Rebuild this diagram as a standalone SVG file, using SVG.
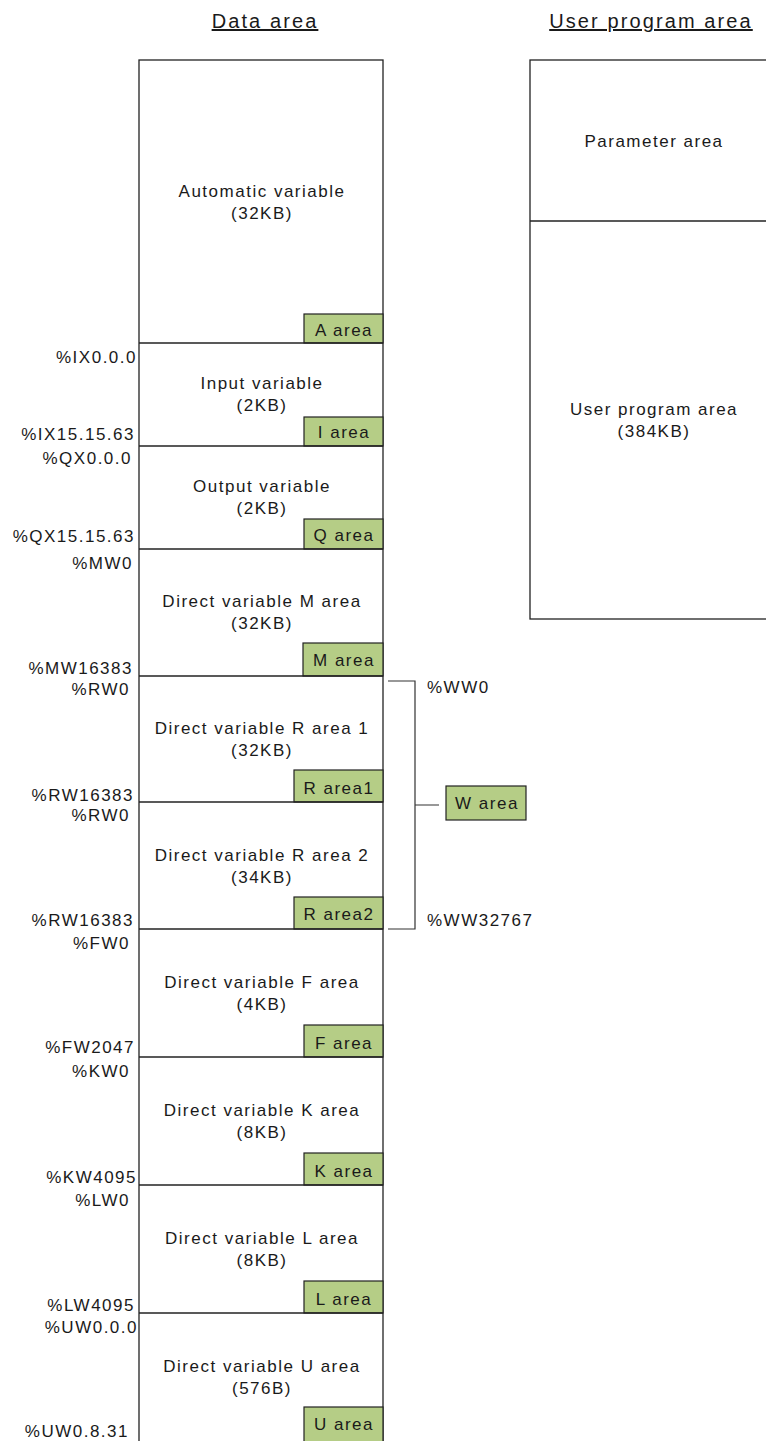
<svg xmlns="http://www.w3.org/2000/svg" width="766" height="1441" viewBox="0 0 766 1441">
<style>
.t{font-family:"Liberation Sans",Arial,sans-serif;font-size:17px;letter-spacing:1.5px;fill:#1a1a1a}
.c{text-anchor:middle}
.e{text-anchor:end}
.h{font-size:20px;letter-spacing:2.1px;text-decoration:underline}
.col{fill:#fff;stroke:#222;stroke-width:1.3}
.div{stroke:#222;stroke-width:1.3;fill:none}
.lbl{fill:#b5cd86;stroke:#222;stroke-width:1.2}
.br{stroke:#333;stroke-width:1.2;fill:none}
</style>
<rect width="766" height="1441" fill="#fff"/>
<g id="headers">
<text class="t c h" x="265" y="28">Data area</text>
<text class="t c h" x="651" y="28">User program area</text>
</g>
<g id="data-column">
<rect class="col" x="139" y="60" width="244" height="1400"/>
</g>
<g id="A-area">
<text class="t c" x="262" y="197">Automatic variable</text>
<text class="t c" x="262" y="219">(32KB)</text>
<rect class="lbl" x="304" y="314" width="79" height="29"/>
<text class="t c" x="344" y="336">A area</text>
<line class="div" x1="139" y1="343" x2="383" y2="343"/>
</g>
<g id="I-area">
<text class="t e" x="137" y="363">%IX0.0.0</text>
<text class="t c" x="262" y="389">Input variable</text>
<text class="t c" x="262" y="411">(2KB)</text>
<rect class="lbl" x="304" y="417" width="79" height="29"/>
<text class="t c" x="344" y="438">I area</text>
<text class="t e" x="135" y="440">%IX15.15.63</text>
<line class="div" x1="139" y1="446" x2="383" y2="446"/>
</g>
<g id="Q-area">
<text class="t e" x="132" y="464">%QX0.0.0</text>
<text class="t c" x="262" y="492">Output variable</text>
<text class="t c" x="262" y="514">(2KB)</text>
<rect class="lbl" x="304" y="519" width="79" height="30"/>
<text class="t c" x="344" y="541">Q area</text>
<text class="t e" x="135" y="542">%QX15.15.63</text>
<line class="div" x1="139" y1="549" x2="383" y2="549"/>
</g>
<g id="M-area">
<text class="t e" x="133" y="569">%MW0</text>
<text class="t c" x="262" y="607">Direct variable M area</text>
<text class="t c" x="262" y="629">(32KB)</text>
<rect class="lbl" x="303" y="643" width="80" height="33"/>
<text class="t c" x="344" y="666">M area</text>
<text class="t e" x="133" y="674">%MW16383</text>
<line class="div" x1="139" y1="676" x2="383" y2="676"/>
</g>
<g id="R-area1">
<text class="t e" x="130" y="695">%RW0</text>
<text class="t c" x="262" y="734">Direct variable R area 1</text>
<text class="t c" x="262" y="756">(32KB)</text>
<rect class="lbl" x="294" y="770" width="89" height="32"/>
<text class="t c" x="339" y="794">R area1</text>
<text class="t e" x="134" y="801">%RW16383</text>
<line class="div" x1="139" y1="802" x2="383" y2="802"/>
</g>
<g id="R-area2">
<text class="t e" x="130" y="821">%RW0</text>
<text class="t c" x="262" y="861">Direct variable R area 2</text>
<text class="t c" x="262" y="883">(34KB)</text>
<rect class="lbl" x="294" y="897" width="89" height="32"/>
<text class="t c" x="339" y="920">R area2</text>
<text class="t e" x="134" y="926">%RW16383</text>
<line class="div" x1="139" y1="929" x2="383" y2="929"/>
</g>
<g id="F-area">
<text class="t e" x="130" y="949">%FW0</text>
<text class="t c" x="262" y="988">Direct variable F area</text>
<text class="t c" x="262" y="1010">(4KB)</text>
<rect class="lbl" x="304" y="1025" width="79" height="32"/>
<text class="t c" x="344" y="1049">F area</text>
<text class="t e" x="135" y="1053">%FW2047</text>
<line class="div" x1="139" y1="1057" x2="383" y2="1057"/>
</g>
<g id="K-area">
<text class="t e" x="130" y="1077">%KW0</text>
<text class="t c" x="262" y="1116">Direct variable K area</text>
<text class="t c" x="262" y="1138">(8KB)</text>
<rect class="lbl" x="304" y="1153" width="79" height="32"/>
<text class="t c" x="344" y="1177">K area</text>
<text class="t e" x="137" y="1183">%KW4095</text>
<line class="div" x1="139" y1="1185" x2="383" y2="1185"/>
</g>
<g id="L-area">
<text class="t e" x="130" y="1206">%LW0</text>
<text class="t c" x="262" y="1244">Direct variable L area</text>
<text class="t c" x="262" y="1266">(8KB)</text>
<rect class="lbl" x="304" y="1281" width="79" height="32"/>
<text class="t c" x="344" y="1305">L area</text>
<text class="t e" x="135" y="1311">%LW4095</text>
<line class="div" x1="139" y1="1313" x2="383" y2="1313"/>
</g>
<g id="U-area">
<text class="t e" x="138" y="1333">%UW0.0.0</text>
<text class="t c" x="262" y="1372">Direct variable U area</text>
<text class="t c" x="262" y="1394">(576B)</text>
<rect class="lbl" x="304" y="1407" width="79" height="40"/>
<text class="t c" x="344" y="1430">U area</text>
<text class="t e" x="129" y="1437">%UW0.8.31</text>
</g>
<g id="user-program-column">
<rect class="col" x="530" y="60" width="250" height="559"/>
<line class="div" x1="530" y1="221" x2="780" y2="221"/>
</g>
<g id="parameter-area">
<text class="t c" x="654" y="147">Parameter area</text>
</g>
<g id="user-program-area">
<text class="t c" x="654" y="415">User program area</text>
<text class="t c" x="654" y="437">(384KB)</text>
</g>
<g id="connectors">
<path class="br" d="M388,681 H415 V929 H388 M415,805 H439"/>
</g>
<g id="W-area">
<text class="t" x="427" y="693">%WW0</text>
<rect class="lbl" x="446" y="786" width="80" height="34"/>
<text class="t c" x="487" y="809">W area</text>
<text class="t" x="427" y="926">%WW32767</text>
</g>
</svg>
